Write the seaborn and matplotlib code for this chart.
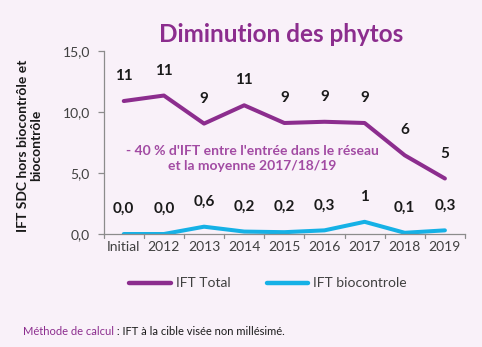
import matplotlib
matplotlib.use("Agg")
import matplotlib.pyplot as plt
import seaborn as sns
import pandas as pd

# Données
annees = ["Initial", "2012", "2013", "2014", "2015", "2016", "2017", "2018", "2019"]
ift_total = [10.9, 11.35, 9.05, 10.55, 9.1, 9.2, 9.1, 6.45, 4.55]
ift_bio = [0.0, 0.0, 0.6, 0.2, 0.15, 0.3, 1.0, 0.1, 0.3]
etiq_total = ["11", "11", "9", "11", "9", "9", "9", "6", "5"]
etiq_bio = ["0,0", "0,0", "0,6", "0,2", "0,2", "0,3", "1", "0,1", "0,3"]
yticks = [0, 5, 10, 15]
ytick_labels = ["0,0", "5,0", "10,0", "15,0"]

VIOLET = "#8C2D8E"
VIOLET_TXT = "#A24BA3"
CYAN = "#16B1E6"
FOND = "#F9F1F9"
GRIS = "#404040"

sns.set_theme(style="white")
plt.rcParams["font.family"] = ["Lato", "DejaVu Sans"]

df = pd.DataFrame({"annee": annees, "total": ift_total, "bio": ift_bio})

fig = plt.figure(figsize=(4.82, 3.47), dpi=100, facecolor=FOND)
ax = fig.add_axes([0.2151, 0.3256, 0.7496, 0.5274])
ax.set_facecolor(FOND)

sns.lineplot(data=df, x="annee", y="total", sort=False, color=VIOLET,
             linewidth=2.9, ax=ax, label="IFT Total")
sns.lineplot(data=df, x="annee", y="bio", sort=False, color=CYAN,
             linewidth=2.9, ax=ax, label="IFT biocontrole")

ax.set_xlim(-0.5, len(annees) - 0.5)
ax.set_ylim(0, 15)
ax.set_yticks(yticks)
ax.set_yticklabels(ytick_labels)
ax.set_xticks(range(len(annees)))
ax.set_xticklabels(annees)
ax.set_xlabel("")
ax.set_ylabel("")

# titre de l'axe des ordonnées, deux lignes centrées
fig.text(0.061, 0.58, "IFT SDC hors biocontrôle et\nbiocontrôle", rotation=90,
         ha="center", va="center", multialignment="center", fontsize=10,
         fontweight="bold", color="#1a1a1a", linespacing=1.05)

for s in ["top", "right"]:
    ax.spines[s].set_visible(False)
for s in ["left", "bottom"]:
    ax.spines[s].set_color("#8c8c8c")
    ax.spines[s].set_linewidth(0.9)

ax.tick_params(axis="y", length=4, width=0.9, color="#8c8c8c", labelsize=10,
               labelcolor=GRIS, pad=6, left=True)
ax.tick_params(axis="x", length=0, labelsize=10, labelcolor=GRIS, pad=5)
# petites graduations entre les catégories
for b in range(0, len(annees) + 1):
    ax.plot([b - 0.5, b - 0.5], [0, -0.35], color="#8c8c8c", lw=0.9,
            clip_on=False, zorder=1)

# étiquettes de valeurs
for i, (v, t) in enumerate(zip(ift_total, etiq_total)):
    ax.annotate(t, (i, v), xytext=(0, 18), textcoords="offset points",
                ha="center", va="center", fontsize=11, fontweight="bold",
                color="#1a1a1a")
for i, (v, t) in enumerate(zip(ift_bio, etiq_bio)):
    ax.annotate(t, (i, v), xytext=(0, 18), textcoords="offset points",
                ha="center", va="center", fontsize=11, fontweight="bold",
                color="#1a1a1a")

ax.text(3.2, 6.2, "- 40 % d'IFT entre l'entrée dans le réseau\net la moyenne 2017/18/19",
        ha="center", va="center", fontsize=10, fontweight="bold",
        color=VIOLET_TXT, linespacing=1.35)

fig.text(0.583, 0.902, "Diminution des phytos", ha="center", va="center",
         fontsize=17.5, fontweight="bold", color=VIOLET)

leg = ax.legend(loc="center", bbox_to_anchor=(0.455, -0.27), ncol=2,
                frameon=False, fontsize=10, handlelength=3.0,
                handletextpad=0.35, columnspacing=2.6)
for txt in leg.get_texts():
    txt.set_color(GRIS)
for line in leg.get_lines():
    line.set_linewidth(3.2)

t1 = fig.text(0.048, 0.046, "Méthode de calcul", fontsize=8, color=VIOLET,
              ha="left", va="center")
fig.canvas.draw()
bb = t1.get_window_extent()
x1 = bb.x1 / fig.bbox.width
fig.text(x1, 0.046, " : IFT à la cible visée non millésimé.", fontsize=8,
         color="#1a1a1a", ha="left", va="center")

fig.savefig("out.png", dpi=100, facecolor=FOND)
